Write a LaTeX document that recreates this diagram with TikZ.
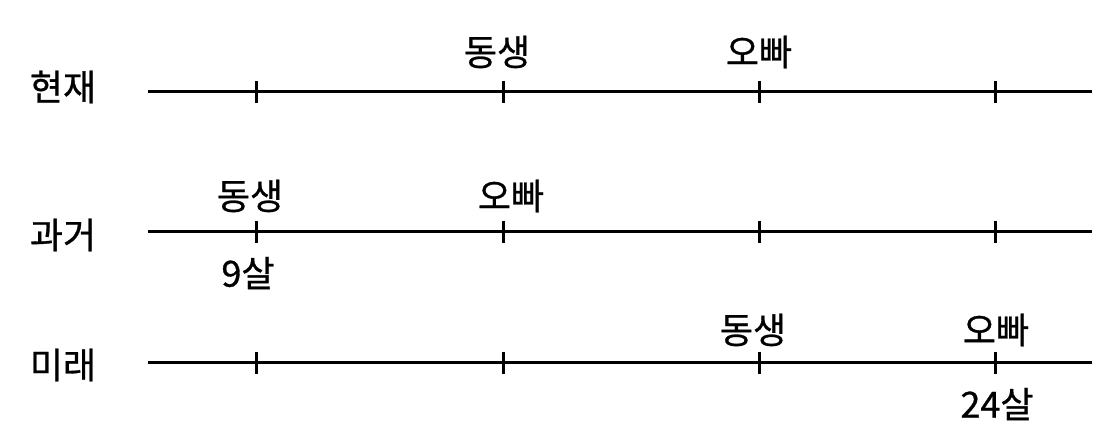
\documentclass[tikz,border=0pt]{standalone}
\usepackage{fontspec}
\newfontfamily\kr[FakeBold=0.8]{Noto Sans CJK KR}
\usepackage{tikz}
\usetikzlibrary{positioning,calc}

\tikzset{
    axis/.style={line width=3pt},
    tick/.style={line width=3pt},
    lbl/.style={font=\kr\fontsize{36}{40}\selectfont, inner sep=0pt}
}

\begin{document}
\begin{tikzpicture}[x=1pt,y=-1pt]
    \useasboundingbox (0,0) rectangle (1114,443);

    % row labels
    \node[lbl] (now) at (63,87) {현재};
    \node[lbl] (past) at (63,235) {과거};
    \node[lbl] (fut) at (63,365) {미래};

    % axes
    \coordinate (A1s) at (148,92);
    \coordinate (A1e) at (1092,92);
    \coordinate (A2s) at (148,232);
    \coordinate (A2e) at (1092,232);
    \coordinate (A3s) at (148,363);
    \coordinate (A3e) at (1092,363);
    \draw[axis] (A1s) -- (A1e);
    \draw[axis] (A2s) -- (A2e);
    \draw[axis] (A3s) -- (A3e);

    % ticks
    \foreach \r/\y in {1/92,2/232,3/363} {
        \foreach \k/\x in {a/256,b/503,c/759,d/995} {
            \coordinate (T\r\k) at (\x,\y);
            \draw[tick] ([yshift=11pt]T\r\k) -- ([yshift=-11pt]T\r\k);
        }
    }

    % present
    \node[lbl] (sis1) at (497,52) {동생};
    \node[lbl] (bro1) at (759,52) {오빠};

    % past
    \node[lbl] (sis2) at (250,196) {동생};
    \node[lbl] (bro2) at (511,196) {오빠};
    \node[lbl] (age9) at (248,273) {9살};

    % future
    \node[lbl] (sis3) at (753,330) {동생};
    \node[lbl] (bro3) at (996,330) {오빠};
    \node[lbl] (age24) at (997,404) {24살};
\end{tikzpicture}
\end{document}
